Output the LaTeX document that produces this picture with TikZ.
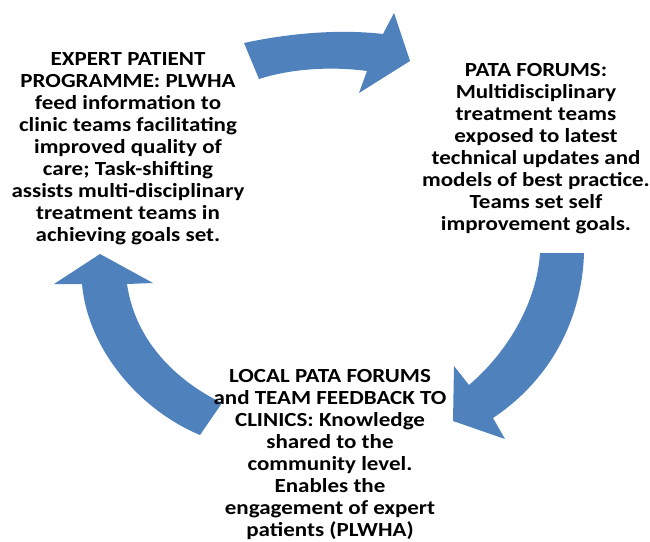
\documentclass[tikz,border=0pt]{standalone}
\usepackage{fontspec}
\setmainfont{Carlito}[FakeStretch=1.15]
\usepackage{tikz}
\usetikzlibrary{calc,positioning}

\definecolor{cycleblue}{RGB}{79,129,189}

\begin{document}
\begin{tikzpicture}[x=1pt,y=-1pt,
    curvedarrow/.style={fill=cycleblue,draw=none},
    stage/.style={align=center,inner sep=0pt,anchor=north,
      font=\fontsize{20}{22}\selectfont\bfseries}]
          \useasboundingbox (0,0) rectangle (650,541);
          \begin{scope}
            % top arrow, pointing right
            \fill[curvedarrow] (244,43) .. controls (290,33) and (340,29) .. (383,34)
              -- (394,13) -- (410,61) -- (359,93) -- (367,71)
              .. controls (330,66) and (290,69) .. (259,79) -- cycle;
            % right arrow, pointing down-left
            \fill[curvedarrow] (540,253) -- (584,253)
              .. controls (582,320) and (550,380) .. (493,418)
              -- (505,439) -- (453,421) -- (454,366) -- (469,385)
              .. controls (510,350) and (537,300) .. (540,253) -- cycle;
            % left arrow, pointing up
            \fill[curvedarrow] (200,435) .. controls (140,410) and (88,350) .. (82,284)
              -- (54,284) -- (100,254) -- (153,283) -- (127,284)
              .. controls (135,340) and (175,380) .. (222,403) -- cycle;
          \end{scope}
          \node[stage] (expert) at (128,52) {EXPERT PATIENT\\PROGRAMME: PLWHA\\feed information to\\clinic teams facilitating\\improved quality of\\care; Task-shifting\\assists multi-disciplinary\\treatment teams in\\achieving goals set.};
          \node[stage] (forums) at (536,63) {PATA FORUMS:\\Multidisciplinary\\treatment teams\\exposed to latest\\technical updates and\\models of best practice.\\Teams set self\\improvement goals.};
          \node[stage] (local) at (330,369) {LOCAL PATA FORUMS\\and TEAM FEEDBACK TO\\CLINICS: Knowledge\\shared to the\\community level.\\Enables the\\engagement of expert\\patients (PLWHA)};
        \end{tikzpicture}
\end{document}
